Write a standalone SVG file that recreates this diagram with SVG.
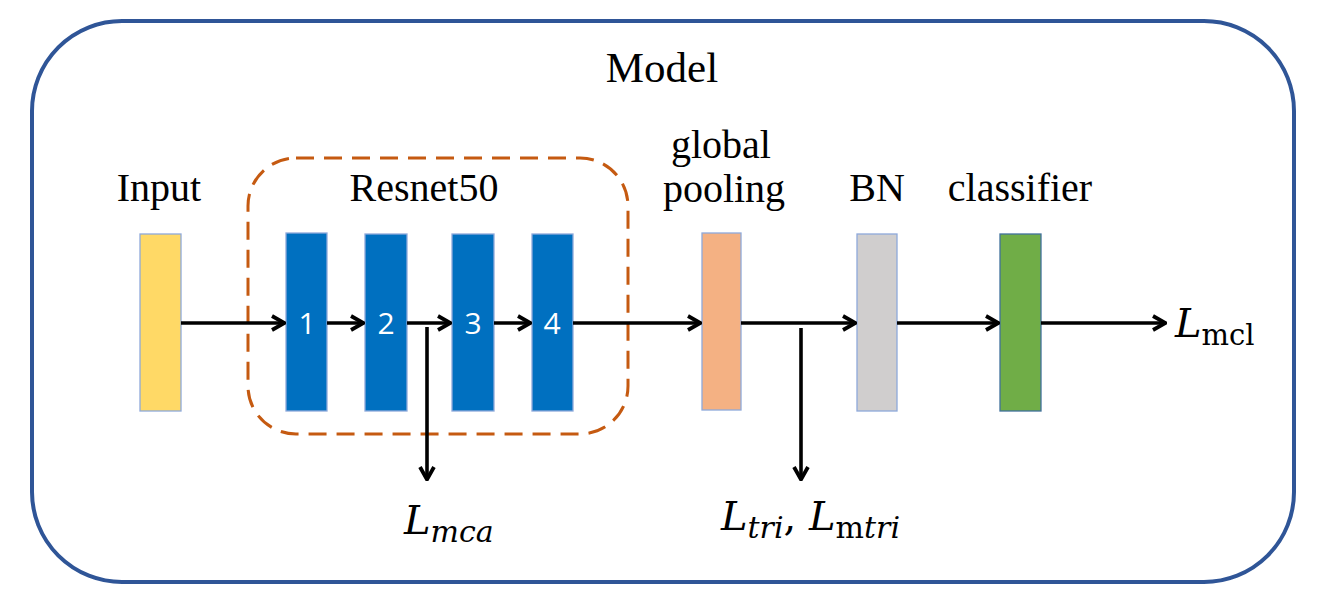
<svg xmlns="http://www.w3.org/2000/svg" width="1328" height="609" viewBox="0 0 1328 609">
<defs>
<marker id="ah" viewBox="0 0 16 18" refX="15" refY="9" markerWidth="16" markerHeight="18" markerUnits="userSpaceOnUse" orient="auto">
<path d="M2,2 L14.5,9 L2,16" fill="none" stroke="#000" stroke-width="3.8"/>
</marker>
<style>
.lbl{font-family:"Liberation Serif","Times New Roman",serif;font-size:40px;fill:#000;text-anchor:middle}
.num{font-family:"Open Sans","Liberation Sans",sans-serif;font-size:30px;fill:#fff;text-anchor:middle}
.blk{stroke:#8EA9DB;stroke-width:1.3}
.con{stroke:#000;stroke-width:3.6;fill:none}
.math{font-family:"DejaVu Serif","Liberation Serif",serif;fill:#000}
</style>
</defs>
<rect width="1328" height="609" fill="#fff"/>
<g id="model">
<rect x="32" y="21" width="1262" height="561" rx="90" ry="90" fill="none" stroke="#2F5597" stroke-width="4"/>
<text class="lbl" x="662" y="82" style="font-size:43px">Model</text>
</g>
<g id="resnet50">
<rect x="248" y="158" width="380" height="276" rx="48" ry="48" fill="none" stroke="#C55A11" stroke-width="3" stroke-dasharray="18 10"/>
<text class="lbl" x="424" y="201">Resnet50</text>
</g>
<g id="input">
<rect class="blk" x="140" y="234" width="41" height="177" fill="#FFD966"/>
<text class="lbl" x="159" y="201">Input</text>
</g>
<g id="block1"><rect class="blk" x="286" y="233" width="41" height="178" fill="#0070C0" stroke="#0070C0"/><text class="num" x="307" y="334">1</text></g>
<g id="block2"><rect class="blk" x="365" y="234" width="42" height="177" fill="#0070C0" stroke="#0070C0"/><text class="num" x="386" y="334">2</text></g>
<g id="block3"><rect class="blk" x="452" y="234" width="42" height="177" fill="#0070C0" stroke="#0070C0"/><text class="num" x="473" y="334">3</text></g>
<g id="block4"><rect class="blk" x="532" y="234" width="41" height="177" fill="#0070C0" stroke="#0070C0"/><text class="num" x="552" y="334">4</text></g>
<g id="pooling">
<rect class="blk" x="702" y="233" width="39" height="177" fill="#F4B183"/>
<text class="lbl" x="721" y="158">global</text>
<text class="lbl" x="724" y="202">pooling</text>
</g>
<g id="bn">
<rect class="blk" x="857" y="234" width="40" height="177" fill="#D0CECE"/>
<text class="lbl" x="877" y="201">BN</text>
</g>
<g id="classifier">
<rect x="1000" y="234" width="41" height="177" fill="#70AD47" stroke="#41719C" stroke-width="1.3"/>
<text class="lbl" x="1020" y="201">classifier</text>
</g>
<g id="connectors">
<line class="con" x1="181" y1="323" x2="285" y2="323" marker-end="url(#ah)"/>
<line class="con" x1="327" y1="323" x2="364" y2="323" marker-end="url(#ah)"/>
<line class="con" x1="407" y1="323" x2="451" y2="323" marker-end="url(#ah)"/>
<line class="con" x1="494" y1="323" x2="531" y2="323" marker-end="url(#ah)"/>
<line class="con" x1="573" y1="323" x2="701" y2="323" marker-end="url(#ah)"/>
<line class="con" x1="741" y1="323" x2="856" y2="323" marker-end="url(#ah)"/>
<line class="con" x1="897" y1="323" x2="999" y2="323" marker-end="url(#ah)"/>
<line class="con" x1="1041" y1="323" x2="1166" y2="323" marker-end="url(#ah)"/>
<line class="con" x1="427" y1="327" x2="427" y2="480" marker-end="url(#ah)"/>
<line class="con" x1="801" y1="328" x2="801" y2="480" marker-end="url(#ah)"/>
</g>
<g id="losses">
<text class="math" x="1175" y="337" font-size="40" font-style="italic">L<tspan font-size="29" font-style="normal" dy="8">mcl</tspan></text>
<text class="math" x="404" y="534" font-size="40" font-style="italic">L<tspan font-size="30" dy="8">mca</tspan></text>
<text class="math" x="721" y="530" font-size="40" font-style="italic">L<tspan font-size="30" dy="8">tri</tspan><tspan font-style="normal" dy="-8">, </tspan>L<tspan font-size="30" dy="8"><tspan font-style="normal">m</tspan>tri</tspan></text>
</g>
</svg>
